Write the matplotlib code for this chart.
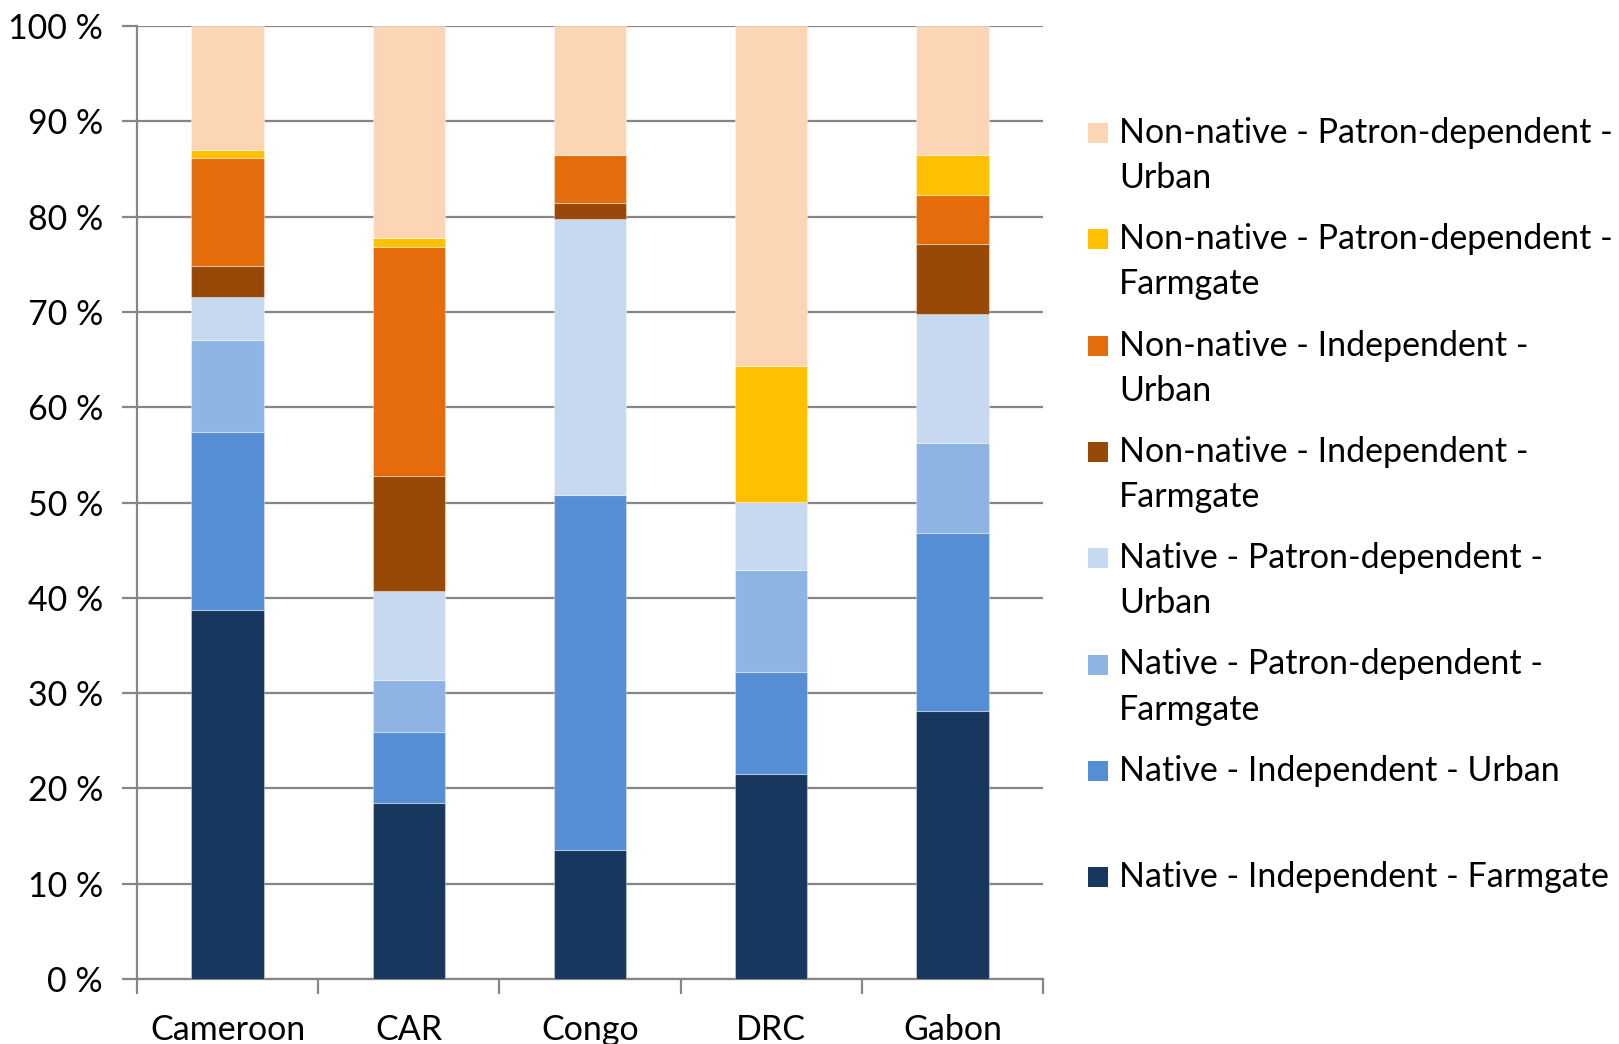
import numpy as np
import matplotlib.pyplot as plt
from matplotlib.patches import Rectangle

plt.rcParams['font.family'] = ['Lato', 'DejaVu Sans']

countries = ["Cameroon", "CAR", "Congo", "DRC", "Gabon"]

# shares in %, bottom segment first
native_ind_farmgate = [38.7, 18.5, 13.5, 21.5, 28.1]
native_ind_urban = [18.7, 7.4, 37.3, 10.7, 18.7]
native_pd_farmgate = [9.7, 5.5, 0.0, 10.7, 9.4]
native_pd_urban = [4.5, 9.3, 28.9, 7.2, 13.6]
nonnative_ind_farmgate = [3.2, 12.1, 1.7, 0.0, 7.3]
nonnative_ind_urban = [11.4, 24.0, 5.1, 0.0, 5.2]
nonnative_pd_farmgate = [0.8, 1.0, 0.0, 14.2, 4.2]
nonnative_pd_urban = [13.0, 22.2, 13.5, 35.7, 13.5]

series = [
    (native_ind_farmgate, "Native - Independent - Farmgate", "#17375E"),
    (native_ind_urban, "Native - Independent - Urban", "#558ED5"),
    (native_pd_farmgate, "Native - Patron-dependent -\nFarmgate", "#8EB4E3"),
    (native_pd_urban, "Native - Patron-dependent -\nUrban", "#C6D9F1"),
    (nonnative_ind_farmgate, "Non-native - Independent -\nFarmgate", "#984807"),
    (nonnative_ind_urban, "Non-native - Independent -\nUrban", "#E46C0A"),
    (nonnative_pd_farmgate, "Non-native - Patron-dependent -\nFarmgate", "#FFC000"),
    (nonnative_pd_urban, "Non-native - Patron-dependent -\nUrban", "#FCD5B5"),
]

fsize = 24.5

fig = plt.figure(figsize=(16.19, 10.44), dpi=100)
ax = fig.add_axes([137 / 1619, 1 - 979 / 1044, (1043 - 137) / 1619, (979 - 26) / 1044])

x = np.arange(len(countries))
bottom = np.zeros(len(countries))
for vals, label, color in series:
    ax.bar(x, vals, width=0.4, bottom=bottom, color=color,
           edgecolor=(1, 1, 1, 0.35), linewidth=0.8, zorder=3)
    bottom += np.array(vals)

grey = "#868686"
ax.set_xlim(-0.5, len(countries) - 0.5)
ax.set_ylim(0, 100)
ax.set_yticks(np.arange(0, 101, 10))
ax.set_yticklabels([f"{v} %" for v in range(0, 101, 10)])
ax.yaxis.grid(True, color=grey, linewidth=1.6, zorder=0)

ax.set_xticks(np.arange(-0.5, len(countries), 1.0))
ax.set_xticklabels([])
ax.set_xticks(x, minor=True)
ax.set_xticklabels(countries, minor=True)
ax.tick_params(axis='x', which='minor', length=0, pad=25, labelsize=fsize)
ax.tick_params(axis='x', which='major', length=11, width=1.6, color=grey)
ax.tick_params(axis='y', length=11, width=1.6, color=grey, pad=13.5, labelsize=fsize)

for s in ['top', 'right']:
    ax.spines[s].set_visible(False)
for s in ['left', 'bottom']:
    ax.spines[s].set_color(grey)
    ax.spines[s].set_linewidth(1.6)
ax.set_axisbelow(True)

# legend, top entry = last series
W, H = 1619, 1044
y0 = 133
step = 106.3
for i, (vals, label, color) in enumerate(reversed(series)):
    yc = y0 + i * step
    fig.add_artist(Rectangle((1088 / W, 1 - (yc + 10) / H), 20 / W, 20 / H,
                             transform=fig.transFigure, facecolor=color, edgecolor='none'))
    for j, line in enumerate(label.split("\n")):
        fig.text(1119 / W, 1 - (yc + j * 45) / H, line, fontsize=fsize,
                 va='center', ha='left', color='black')

fig.savefig("out.png", dpi=100)
